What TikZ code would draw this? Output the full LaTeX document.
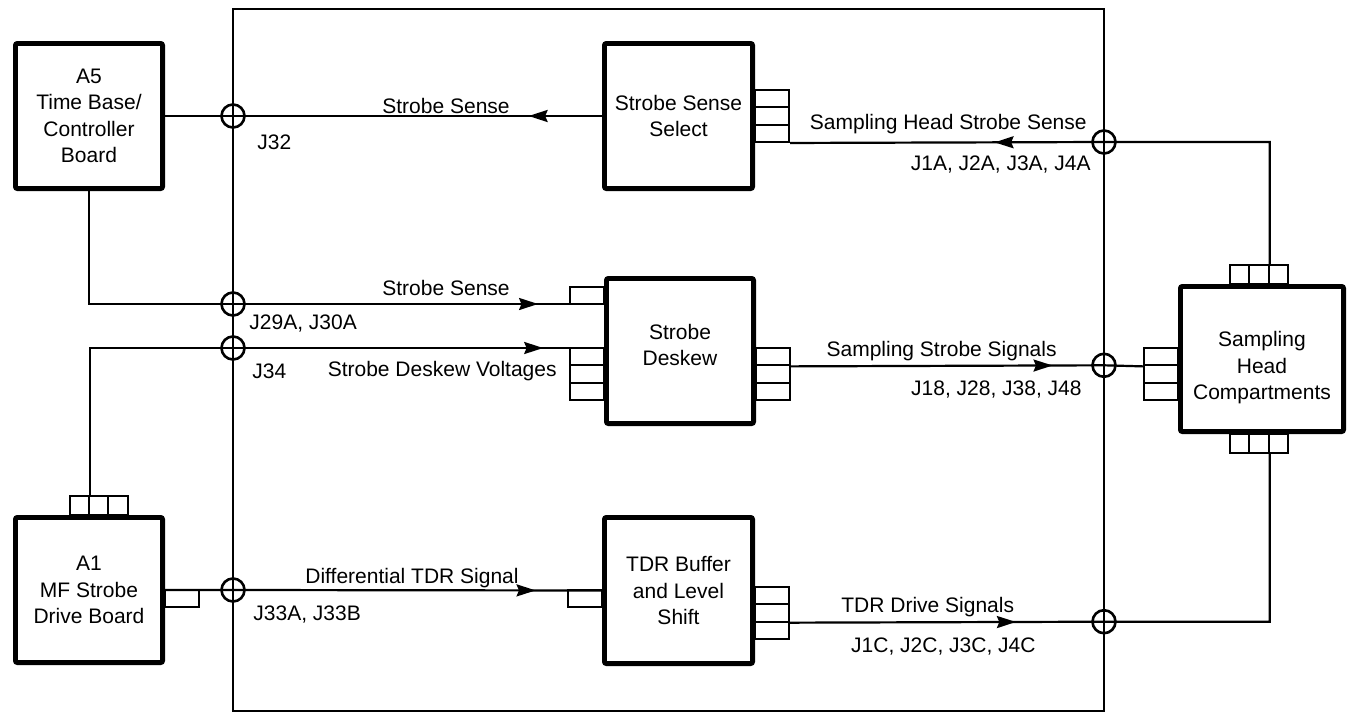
\documentclass[tikz,border=0pt]{standalone}
\usepackage{fontspec}
\setmainfont{Liberation Sans}
\usetikzlibrary{arrows.meta,decorations.markings}
\tikzset{
  board/.style={draw, line width=2.4pt, rounded corners=1pt, align=center, font=\fontsize{10.5}{13.2}\selectfont, inner sep=2pt, minimum width=73.6pt, minimum height=72.6pt},
  pinh/.style={draw, line width=1pt, minimum width=17pt, minimum height=8.67pt, inner sep=0pt},
  pinv/.style={draw, line width=1pt, minimum width=9.67pt, minimum height=9.5pt, inner sep=0pt},
  jack/.style={draw, circle, line width=1.3pt, minimum size=11.5pt, inner sep=0pt},
  lbl/.style={inner sep=0pt, font=\fontsize{10.5}{13.2}\selectfont},
  sig/.style={line width=1.1pt, postaction={decorate}, decoration={markings, mark=at position #1 with {\arrow{Stealth[length=9.5pt,width=6pt,inset=1.2pt]}}}},
}

\begin{document}
\begin{tikzpicture}[x=0.5pt, y=-0.5pt]
  \useasboundingbox (0,0) rectangle (1351,713);
  % module frame
  \node[draw, line width=1.1pt, minimum width=435.5pt, minimum height=351pt, inner sep=0pt] (frame) at (668.5,360) {};

  \node[board] (a5)   at (89,116)    {A5\\Time Base/\\Controller\\Board};
  \node[board] (a1)   at (89,590)    {A1\\MF Strobe\\Drive Board};
  \node[board, minimum width=74.1pt] (ssel) at (678.5,116) {Strobe Sense\\Select};
  \node[board] (desk) at (680,351)   {Strobe\\Deskew\rule[-6pt]{0pt}{6pt}};
  \node[board, minimum width=74.1pt, minimum height=73.1pt] (tdr) at (678.5,590.5) {TDR Buffer\\and Level\\Shift};
  \node[board, minimum width=81.6pt] (shc) at (1262,359) {\rule{0pt}{16.5pt}Sampling\\Head\\Compartments};

  % connector pins
  \foreach \y [count=\i] in {98.7,116,133.3} \node[pinh] (sselr\i) at (772,\y) {};
  \node[pinh] (deskin) at (587,295.3) {};
  \foreach \y [count=\i] in {356.7,374,391.3} {
    \node[pinh] (deskl\i) at (587,\y) {};
    \node[pinh] (deskr\i) at (773,\y) {};
    \node[pinh] (shcl\i) at (1161,\y) {};
  }
  \node[pinh] (tdrin) at (585,598.7) {};
  \foreach \y [count=\i] in {595.7,613,630.3} \node[pinh] (tdrr\i) at (772,\y) {};
  \node[pinh] (a1out) at (182,598.7) {};
  \foreach \x [count=\i] in {79.4,98.7,118} \node[pinv] (a1t\i) at (\x,505.5) {};
  \foreach \x [count=\i] in {1239.7,1259,1278.3} {
    \node[pinv] (shct\i) at (\x,274.5) {};
    \node[pinv] (shcb\i) at (\x,443.5) {};
  }

  % jacks on the frame
  \node[jack] (j32) at (233,116)    {};
  \node[jack] (j29) at (233,304)    {};
  \node[jack] (j34) at (233,348)    {};
  \node[jack] (j33) at (233,590)    {};
  \node[jack] (j1a) at (1104,142)   {};
  \node[jack] (j18) at (1104,365.3) {};
  \node[jack] (j1c) at (1104,621.7) {};

  \draw[sig=0.168] (ssel.west) -- (j32.center) -- (a5.east);
  \draw[sig=0.66] (shct2.north east) |- (j1a.center) -- (sselr3.south east);
  \draw[sig=0.895] (a5.south) |- (j29.center) -- (desk.west |- j29.center);
  \draw[sig=0.908] (a1t1.north east) |- (j34.center) -- (desk.west |- j34.center);
  \draw[sig=0.743] (deskr1.south east) -- (j18.center) -- (shcl1.south west);
  \draw[sig=0.848] (a1.east) -- (j33.center) -- (tdr.west);
  \draw[sig=0.349] (tdrr2.south east) -- (j1c.center) -| (shcb2.south east);

  % labels
  \node[lbl, anchor=base west] (lss1)  at (382,113)    {Strobe Sense};
  \node[lbl, anchor=base west] (lj32)  at (257,149)    {J32};
  \node[lbl, anchor=base west] (lss2)  at (382,295)    {Strobe Sense};
  \node[lbl, anchor=base west] (lj29)  at (249,329.5)  {J29A, J30A};
  \node[lbl, anchor=base west] (lj34)  at (252,378)    {J34};
  \node[lbl, anchor=base east] (lsdv)  at (557,376)    {Strobe Deskew Voltages};
  \node[lbl, anchor=base west] (ldtdr) at (305,583)    {Differential TDR Signal};
  \node[lbl, anchor=base west] (lj33)  at (253,620)    {J33A, J33B};
  \node[lbl, anchor=base east] (lshss) at (1087,129)   {Sampling Head Strobe Sense};
  \node[lbl, anchor=base east] (lj1a)  at (1091,170.5) {J1A, J2A, J3A, J4A};
  \node[lbl, anchor=base east] (lsss)  at (1057,356)   {Sampling Strobe Signals};
  \node[lbl, anchor=base east] (lj18)  at (1082,395)   {J18, J28, J38, J48};
  \node[lbl, anchor=base west] (ltdrd) at (841,612)    {TDR Drive Signals};
  \node[lbl, anchor=base east] (lj1c)  at (1036,652)   {J1C, J2C, J3C, J4C};
\end{tikzpicture}
\end{document}
